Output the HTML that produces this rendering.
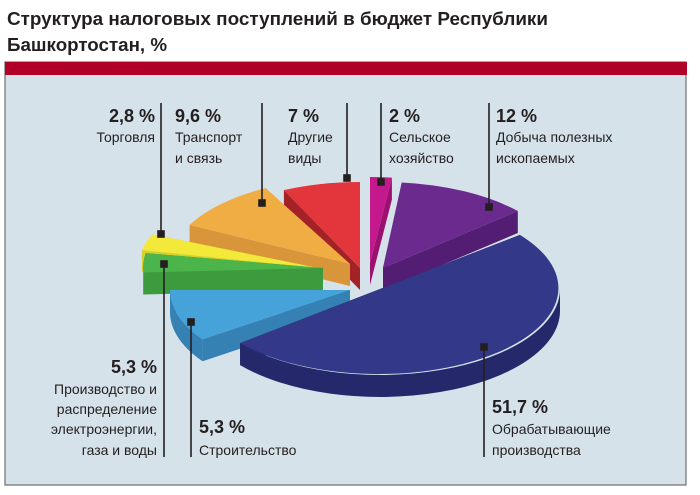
<!DOCTYPE html>
<html><head><meta charset="utf-8"><style>
html,body{margin:0;padding:0;background:#fff;}
svg{display:block}
text{font-family:"Liberation Sans",sans-serif;fill:#231f20}
.p{font-size:18px;font-weight:bold}
.d{font-size:14px}
</style></head><body>
<svg id="s" width="700" height="495" viewBox="0 0 700 495" xmlns="http://www.w3.org/2000/svg">
<text x="7" y="25" style="font-size:18px;font-weight:bold" textLength="541" lengthAdjust="spacingAndGlyphs">Структура налоговых поступлений в бюджет Республики</text>
<text x="7" y="51" style="font-size:18px;font-weight:bold" textLength="160" lengthAdjust="spacingAndGlyphs">Башкортостан, %</text>
<rect x="5" y="62" width="681" height="423" fill="#d6e2e9" stroke="#6e6e6e" stroke-width="1.2"/>
<rect x="5" y="62" width="682" height="13" fill="#b00028"/>
<g id="pie"></g>
<g stroke="#231f20" stroke-width="1.6" fill="#231f20">
<line x1="161" y1="103" x2="161" y2="234"/><rect x="158" y="231" width="6" height="6"/>
<line x1="262" y1="103" x2="262" y2="203"/><rect x="259" y="200" width="6" height="6"/>
<line x1="347" y1="103" x2="347" y2="178"/><rect x="344" y="175" width="6" height="6"/>
<line x1="381" y1="103" x2="381" y2="182"/><rect x="378" y="179" width="6" height="6"/>
<line x1="489" y1="103" x2="489" y2="207"/><rect x="486" y="204" width="6" height="6"/>
<line x1="164" y1="264" x2="164" y2="457"/><rect x="161" y="261" width="6" height="6"/>
<line x1="191" y1="322" x2="191" y2="457"/><rect x="188" y="319" width="6" height="6"/>
<line x1="484" y1="347" x2="484" y2="457"/><rect x="481" y="344" width="6" height="6"/>
</g>
<g>
<text class="p" x="155" y="122" text-anchor="end">2,8 %</text>
<text class="d" x="155" y="142" text-anchor="end">Торговля</text>
<text class="p" x="175" y="122">9,6 %</text>
<text class="d" x="175" y="142">Транспорт</text>
<text class="d" x="175" y="163">и связь</text>
<text class="p" x="288" y="122">7 %</text>
<text class="d" x="288" y="142">Другие</text>
<text class="d" x="288" y="163">виды</text>
<text class="p" x="389" y="122">2 %</text>
<text class="d" x="389" y="142">Сельское</text>
<text class="d" x="389" y="163">хозяйство</text>
<text class="p" x="496" y="122">12 %</text>
<text class="d" x="496" y="142">Добыча полезных</text>
<text class="d" x="496" y="163">ископаемых</text>
<text class="p" x="157" y="373" text-anchor="end">5,3 %</text>
<text class="d" x="157" y="394" text-anchor="end">Производство и</text>
<text class="d" x="157" y="414" text-anchor="end">распределение</text>
<text class="d" x="157" y="434" text-anchor="end">электроэнергии,</text>
<text class="d" x="157" y="455" text-anchor="end">газа и воды</text>
<text class="p" x="199" y="433">5,3 %</text>
<text class="d" x="199" y="455">Строительство</text>
<text class="p" x="492" y="413">51,7 %</text>
<text class="d" x="492" y="434">Обрабатывающие</text>
<text class="d" x="492" y="455">производства</text>
</g>
</svg>
<script>
(function(){
var rx=180,ry=86,D=22,g=document.getElementById('pie'),NS='http://www.w3.org/2000/svg';
function P(c,t){t=t*Math.PI/180;return [c[0]+rx*Math.cos(t),c[1]+ry*Math.sin(t)];}
function add(d,f){var p=document.createElementNS(NS,'path');p.setAttribute('d',d);p.setAttribute('fill',f);g.appendChild(p);}
function f(p){return p[0].toFixed(1)+' '+p[1].toFixed(1);}
function slice(c,t1,t2,top,side){
 var cd=[c[0],c[1]+D];
 [t1,t2].forEach(function(t){var p=P(c,t);add('M'+f(c)+'L'+f(p)+'L'+f([p[0],p[1]+D])+'L'+f(cd)+'Z',side);});
 var a=Math.max(t1,0),b=Math.min(t2,180);
 if(b>a){var pa=P(c,a),pb=P(c,b);var lg=(b-a)>180?1:0;
  add('M'+f(pa)+'A'+rx+' '+ry+' 0 '+lg+' 1 '+f(pb)+'L'+f([pb[0],pb[1]+D])+'A'+rx+' '+ry+' 0 '+lg+' 0 '+f([pa[0],pa[1]+D])+'Z',side);}
 var p1=P(c,t1),p2=P(c,t2);var lg2=(t2-t1)>180?1:0;
 add('M'+f(c)+'L'+f(p1)+'A'+rx+' '+ry+' 0 '+lg2+' 1 '+f(p2)+'Z',top);
}
slice([370,263],-90,-83,'#c4198c','#9c1070');
slice([383,268],-84,-41.5,'#6a2a8e','#531d74');
slice([360,268],-115,-90,'#e2363c','#a42226');
slice([350,264],-153,-118,'#f0ad43','#d9953a');
slice([318,268],-168,-157,'#f2e93a','#d8cf2e');
slice([323,268],-183,-170,'#4bb44a','#3d9a3d');
slice([350,290],145,180,'#46a3da','#3581b3');
slice([380,289],-39,141,'#333889','#25296c');
})();
</script>
</body></html>
